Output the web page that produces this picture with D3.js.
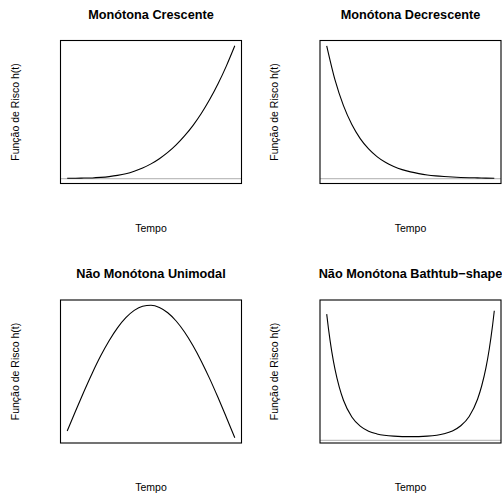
<!DOCTYPE html>
<html>
<head>
<meta charset="utf-8">
<script src="https://cdn.jsdelivr.net/npm/d3@7"></script>
<style>
  html, body { margin: 0; padding: 0; background: #fff; }
  text { font-family: "Liberation Sans", Arial, Helvetica, sans-serif; fill: #000; }
</style>
</head>
<body>
<script>
// Panel titles and axis labels
const titles = ["Monótona Crescente", "Monótona Decrescente", "Não Monótona Unimodal", "Não Monótona Bathtub\u2212shape"];
const yLabel = "Função de Risco h(t)";
const xLabel = "Tempo";

// Time grid shared by the first three hazard curves
const tGrid = [0, 0.05, 0.1, 0.15, 0.2, 0.25, 0.3, 0.35, 0.4, 0.45, 0.5,
               0.55, 0.6, 0.65, 0.7, 0.75, 0.8, 0.85, 0.9, 0.95, 1];

// Increasing hazard
const hCrescente = [0.003, 0.003, 0.004, 0.005, 0.009, 0.015, 0.024, 0.037, 0.056, 0.080, 0.111,
                    0.150, 0.197, 0.254, 0.321, 0.399, 0.490, 0.595, 0.714, 0.849, 1.0];

// Decreasing hazard
const hDecrescente = [1.0, 0.741, 0.549, 0.407, 0.301, 0.223, 0.165, 0.122, 0.091, 0.067, 0.050,
                      0.037, 0.027, 0.020, 0.015, 0.011, 0.008, 0.006, 0.005, 0.003, 0.0025];

// Unimodal hazard
const hUnimodal = [0.05, 0.202, 0.349, 0.489, 0.618, 0.732, 0.829, 0.906, 0.961, 0.992, 0.9995,
                   0.983, 0.943, 0.881, 0.798, 0.696, 0.578, 0.446, 0.303, 0.153, 0.0];

// Bathtub hazard (denser near the steep ends)
const tBanheira = [0, 0.01, 0.02, 0.03, 0.05, 0.075, 0.1, 0.15, 0.2, 0.25, 0.3, 0.4, 0.5,
                   0.6, 0.7, 0.75, 0.8, 0.85, 0.9, 0.925, 0.95, 0.97, 0.98, 0.99, 1];
const hBanheira = [0.974, 0.867, 0.771, 0.687, 0.545, 0.410, 0.309, 0.180, 0.109, 0.070, 0.049, 0.032, 0.028,
                   0.032, 0.050, 0.072, 0.112, 0.184, 0.317, 0.421, 0.559, 0.705, 0.792, 0.890, 1.0];
const ylimBanheira = [-0.021, 1.083];

const panels = [
  { title: titles[0], t: tGrid, h: hCrescente, zero: true },
  { title: titles[1], t: tGrid, h: hDecrescente, zero: true },
  { title: titles[2], t: tGrid, h: hUnimodal, zero: false },
  { title: titles[3], t: tBanheira, h: hBanheira, zero: true, ylim: ylimBanheira }
];

const W = 502, H = 496;
const svg = d3.select("body").append("svg")
  .attr("width", W).attr("height", H)
  .style("display", "block");

const boxW = 181, boxH = 143;
const originX = 60.5, originY = 40.5, step = 259.5;

// extent padded by 4% on each side
function padded(ext) {
  const d = (ext[1] - ext[0]) * 0.04;
  return [ext[0] - d, ext[1] + d];
}

panels.forEach((p, i) => {
  const col = i % 2, row = Math.floor(i / 2);
  const x0 = originX + col * step, y0 = originY + row * step;

  const g = svg.append("g").attr("transform", `translate(${x0},${y0})`);

  const x = d3.scaleLinear().domain(padded(d3.extent(p.t))).range([0, boxW]);
  const y = d3.scaleLinear().domain(p.ylim || padded(d3.extent(p.h))).range([boxH, 0]);

  const clipId = "clip" + i;
  g.append("clipPath").attr("id", clipId)
    .append("rect").attr("width", boxW).attr("height", boxH);

  if (p.zero) {
    g.append("line")
      .attr("clip-path", `url(#${clipId})`)
      .attr("x1", 0).attr("x2", boxW)
      .attr("y1", y(0)).attr("y2", y(0))
      .attr("stroke", "#bebebe").attr("stroke-width", 1.2);
  }

  const line = d3.line()
    .x((d, k) => x(p.t[k]))
    .y(d => y(d))
    .curve(d3.curveMonotoneX);

  g.append("path")
    .datum(p.h)
    .attr("d", line)
    .attr("fill", "none")
    .attr("stroke", "#000")
    .attr("stroke-width", 1.1);

  g.append("rect")
    .attr("width", boxW).attr("height", boxH)
    .attr("fill", "none").attr("stroke", "#000").attr("stroke-width", 1.1);

  // title
  g.append("text")
    .attr("x", boxW / 2).attr("y", -22)
    .attr("text-anchor", "middle")
    .style("font-size", "12.7px").style("font-weight", "bold")
    .text(p.title);

  // x label
  g.append("text")
    .attr("x", boxW / 2).attr("y", boxH + 48)
    .attr("text-anchor", "middle")
    .style("font-size", "10.5px")
    .text(xLabel);

  // y label
  g.append("text")
    .attr("transform", `translate(-42,${boxH / 2}) rotate(-90)`)
    .attr("text-anchor", "middle")
    .style("font-size", "10.5px")
    .text(yLabel);
});
</script>
</body>
</html>
